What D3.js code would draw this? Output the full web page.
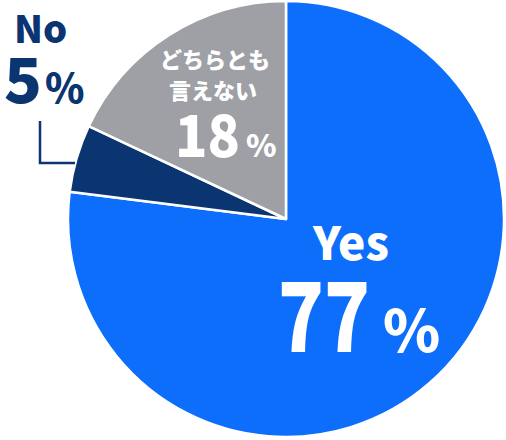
<!DOCTYPE html>
<html>
<head>
<meta charset="utf-8">
<script src="https://cdn.jsdelivr.net/npm/d3@7"></script>
<style>
  html, body { margin: 0; padding: 0; background: #fff; }
  svg { display: block; }
  text { font-family: "Noto Sans CJK JP", "Noto Sans", sans-serif; font-weight: 900; }
</style>
</head>
<body>
<svg id="chart"></svg>
<script>
// answer categories, in drawing order (clockwise from 12 o'clock)
const categories = ['Yes', 'No', 'どちらとも言えない'];
const values = [77, 5, 18];
const colors = ['#0d6efb', '#0b3571', '#9ea0a5'];

const width = 506, height = 440;
const cx = 286, cy = 219, radius = 218;

const svg = d3.select('#chart')
  .attr('width', width)
  .attr('height', height);

const data = categories.map((c, i) => ({ label: c, value: values[i], color: colors[i] }));

const pie = d3.pie()
  .value(d => d.value)
  .sort(null);

const arc = d3.arc()
  .innerRadius(0)
  .outerRadius(radius);

const g = svg.append('g')
  .attr('transform', `translate(${cx},${cy})`);

g.selectAll('path')
  .data(pie(data))
  .enter().append('path')
  .attr('d', arc)
  .attr('fill', d => d.data.color)
  .attr('stroke', '#fff')
  .attr('stroke-width', 2.5)
  .attr('stroke-linejoin', 'round');

// big number + small "%" helper
function pct(parent, x, y, value, size, numWidth, gap, pctSize, fill) {
  parent.append('text')
    .attr('x', x).attr('y', y)
    .attr('fill', fill)
    .attr('textLength', numWidth)
    .attr('lengthAdjust', 'spacingAndGlyphs')
    .style('font-size', size + 'px')
    .text(value);
  parent.append('text')
    .attr('x', x + numWidth + gap).attr('y', y)
    .attr('fill', fill)
    .style('font-size', pctSize + 'px')
    .text('%');
}

// Yes label
svg.append('text')
  .attr('x', 351).attr('y', 260)
  .attr('text-anchor', 'middle')
  .attr('fill', '#fff')
  .style('font-size', '46px')
  .text(data[0].label);
pct(svg, 278, 352, data[0].value, 96, 92, 13, 58, '#fff');

// Neither label (two lines)
svg.append('text')
  .attr('x', 215).attr('y', 68)
  .attr('text-anchor', 'middle')
  .attr('fill', '#fff')
  .style('font-size', '22px')
  .text('どちらとも');
svg.append('text')
  .attr('x', 213).attr('y', 99)
  .attr('text-anchor', 'middle')
  .attr('fill', '#fff')
  .style('font-size', '22px')
  .text('言えない');
pct(svg, 175, 157, data[2].value, 58, 65, 6, 31, '#fff');

// No label, outside with leader line
svg.append('text')
  .attr('x', 14).attr('y', 43)
  .attr('fill', data[1].color)
  .style('font-size', '38px')
  .text(data[1].label);
pct(svg, 4, 103, data[1].value, 62, 38, 3, 40, data[1].color);

svg.append('path')
  .attr('d', 'M40,121V163H75')
  .attr('fill', 'none')
  .attr('stroke', data[1].color)
  .attr('stroke-width', 2.5);
</script>
</body>
</html>
